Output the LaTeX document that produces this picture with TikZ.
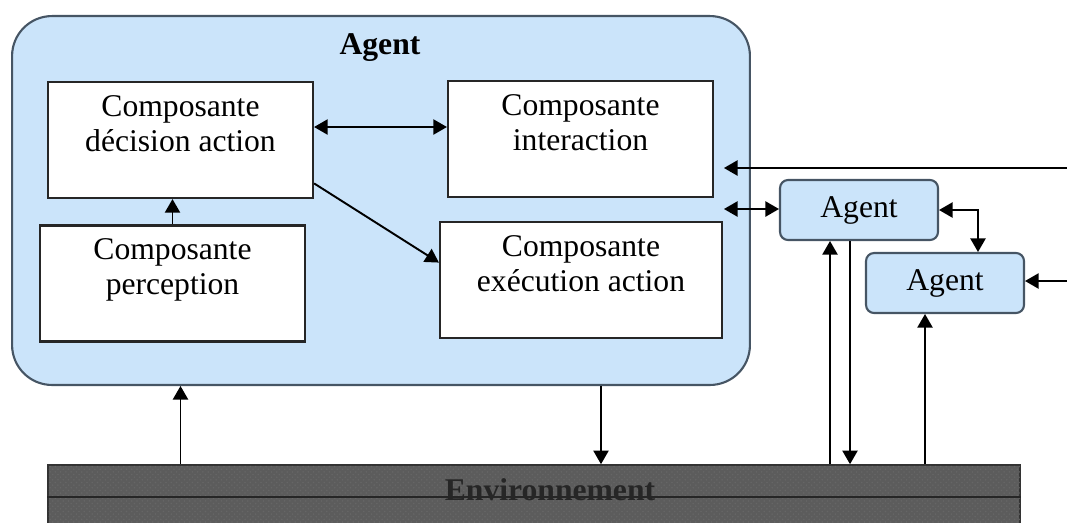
\documentclass[tikz,border=0pt]{standalone}
\usepackage{fontspec}
\setmainfont{Liberation Serif}
\usetikzlibrary{shapes,arrows,patterns}
\usetikzlibrary{calc}
\definecolor{agentblue}{RGB}{203, 228, 250}
\definecolor{agentline}{RGB}{70, 85, 100}
\definecolor{envgray}{RGB}{92, 92, 92}

\begin{document}
\begin{tikzpicture}[x=0.02cm,y=-0.02cm]

\tikzstyle{agent-b} = [draw=agentline, line width=1.2pt, fill=agentblue, rounded corners=0.8cm]
\tikzstyle{small-b} = [draw=agentline, line width=1.2pt, fill=agentblue, rounded corners=0.16cm,
minimum width=3.16cm, minimum height=1.2cm, font=\fontsize{18}{20}\selectfont]
\tikzstyle{square} = [draw=black!85, line width=1.3pt, fill=white, minimum height=2.32cm,
font=\fontsize{18}{20}\selectfont]
\tikzstyle{env_block} = [draw=black!80, line width=1pt, fill=envgray,
postaction={pattern=crosshatch dots, pattern color=black!60}]
\tikzstyle{arr} = [line width=1.1pt, -triangle 60]
\tikzstyle{darr} = [line width=1.1pt, triangle 60-triangle 60]

\useasboundingbox (0,0) rectangle (1067,522);
\clip (0,0) rectangle (1067,522);

% agent
\node [agent-b, minimum width=14.76cm, minimum height=7.38cm] (big) at (381,200.5) {};
\node [font=\fontsize{18}{20}\selectfont\bfseries] (bigT) at (380,48) {Agent};

\node [square, minimum width=5.3cm] (dec) at (180.5,140) {\begin{tabular}{c} Composante\\ décision action\\[-5pt] ~\end{tabular}};
\node [square, minimum width=5.3cm] (int) at (580.5,139) {\begin{tabular}{c} Composante\\ interaction\\[-5pt] ~\end{tabular}};
\node [square, minimum width=5.3cm] (per) at (172.5,283.5) {\begin{tabular}{c} Composante\\ perception\\[-5pt] ~\end{tabular}};
\node [square, minimum width=5.64cm] (exe) at (581,280) {\begin{tabular}{c} Composante\\ exécution action\\[-5pt] ~\end{tabular}};

\draw[darr] ([yshift=0.26cm]dec.east) -- ([yshift=0.26cm]dec.east -| int.west);
\draw[arr] (per.north) -- (per.north |- dec.south);
\draw[arr] (dec.-18) -- (exe.173);

% other agents
\node [small-b] (ag1) at (859,210) {Agent};
\node [small-b] (ag2) at (945,283) {Agent};

\coordinate (extI) at (1067,168);
\coordinate (intIn) at (724,168);
\coordinate (bigIn) at (724,209);
\coordinate (extA) at (1067,281);

\draw[arr] (extI) -- (intIn);
\draw[darr] (bigIn) -- (bigIn -| ag1.west);
\draw[darr] (ag1.east) -| ([xshift=0.66cm]ag2.north);
\draw[arr] (extA) -- (extA -| ag2.east);

% environnement
\node [env_block, minimum width=19.44cm, minimum height=1.5cm] (env) at (534,502.5) {};
\draw[line width=1.5pt, black!85] (env.west |- 0,497) -- (env.east |- 0,497);
\node [font=\fontsize{18}{20}\selectfont\bfseries, text=black!85] (envT) at (550,490) {Environnement};

\draw[arr] (env.north -| dec) -- (big.south -| dec);
\draw[arr] ([xshift=0.4cm]big.south -| exe) -- ([xshift=0.4cm]env.north -| exe);
\draw[arr] ([xshift=-0.58cm]ag1.south |- env.north) -- ([xshift=-0.58cm]ag1.south);
\draw[arr] ([xshift=-0.18cm]ag1.south) -- ([xshift=-0.18cm]ag1.south |- env.north);
\draw[arr] ([xshift=-0.4cm]ag2.south |- env.north) -- ([xshift=-0.4cm]ag2.south);

\end{tikzpicture}
\end{document}
